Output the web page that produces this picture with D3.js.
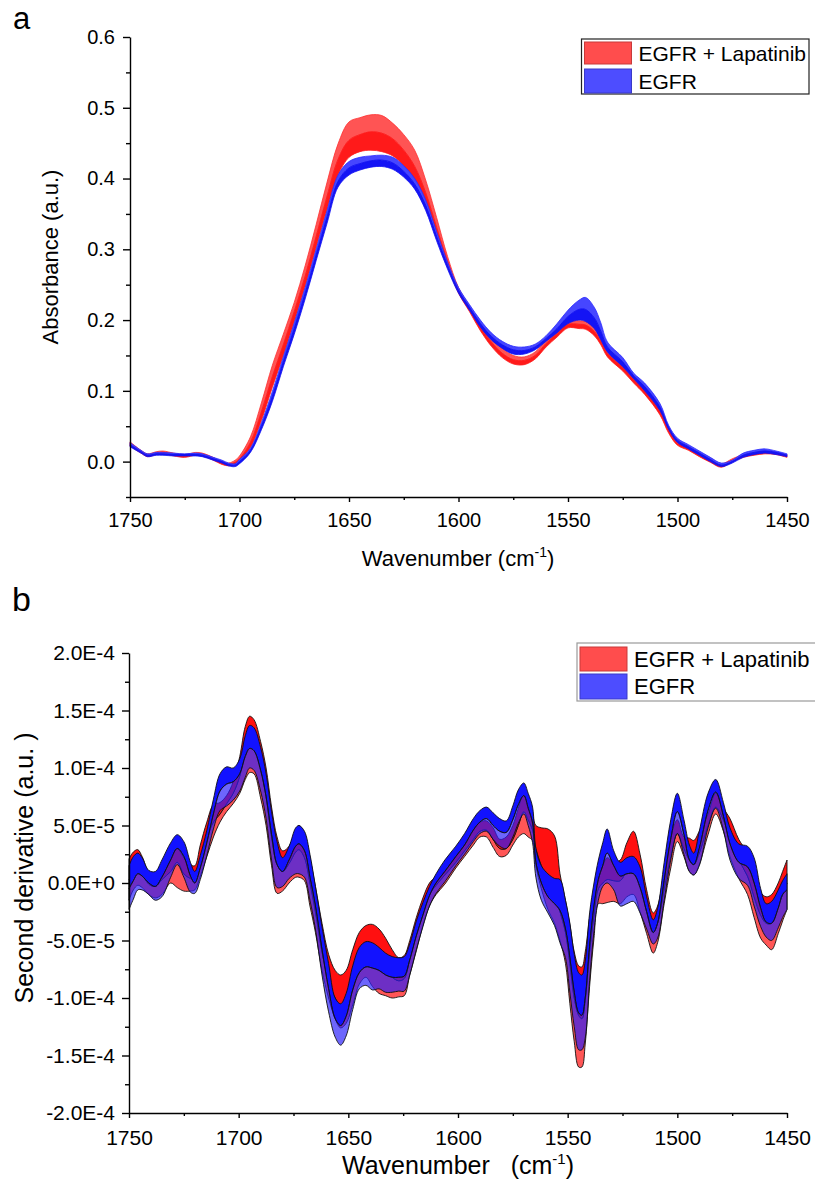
<!DOCTYPE html>
<html><head><meta charset="utf-8">
<script src="https://cdn.jsdelivr.net/npm/d3@7"></script>
<style>
body{margin:0;background:#fff}
svg{display:block}
text{font-family:"Liberation Sans",Arial,sans-serif;fill:#000}
</style>
</head><body>
<svg id="chart" width="815" height="1183"></svg>
<script>
// ---------- Panel a: absorbance spectra (band = lower / middle / upper) ----------
const wnA = [1750,1745,1742,1738,1735,1730,1725,1720,1717,1712,1708,1705,1702,1700,1695,1690,1685,1680,1675,1670,1665,1660,1655,1650,1645,1640,1635,1630,1625,1620,1615,1610,1605,1600,1595,1590,1585,1580,1575,1570,1565,1560,1555,1550,1545,1542,1538,1535,1532,1525,1520,1515,1508,1504,1500,1495,1490,1485,1480,1475,1470,1465,1460,1455,1450];
const lapA_lo = [.022,.012,.007,.010,.011,.008,.006,.009,.008,.002,-.004,-.006,-.004,.001,.020,.058,.105,.150,.198,.248,.303,.357,.405,.430,.438,.440,.438,.432,.418,.395,.362,.318,.276,.238,.212,.185,.163,.147,.138,.137,.145,.162,.176,.189,.188,.187,.178,.165,.148,.128,.111,.095,.066,.040,.023,.016,.007,-.001,-.008,.000,.006,.009,.011,.010,.006];
const lapA_mid = [.025,.014,.009,.012,.013,.010,.008,.011,.010,.004,-.002,-.004,-.001,.004,.027,.070,.120,.165,.212,.262,.318,.375,.427,.454,.462,.466,.464,.456,.440,.417,.380,.331,.283,.242,.216,.190,.169,.153,.144,.143,.150,.167,.181,.194,.194,.193,.184,.170,.153,.133,.116,.100,.071,.044,.026,.019,.010,.002,-.005,.002,.008,.011,.013,.012,.008];
const lapA_hi = [.028,.016,.011,.014,.015,.012,.010,.013,.012,.006,.000,-.002,.002,.008,.035,.083,.136,.180,.225,.277,.335,.395,.449,.480,.486,.490,.489,.478,.462,.440,.398,.345,.290,.246,.220,.195,.175,.160,.150,.148,.155,.172,.186,.198,.199,.198,.190,.176,.158,.138,.121,.105,.076,.048,.029,.022,.013,.005,-.003,.004,.010,.013,.015,.013,.010];
const egfrA_lo = [.021,.012,.007,.009,.009,.008,.008,.008,.007,.002,-.002,-.006,-.007,-.003,.013,.045,.085,.134,.180,.230,.284,.337,.388,.405,.412,.416,.417,.413,.402,.385,.355,.312,.272,.238,.214,.190,.172,.160,.152,.152,.158,.170,.182,.195,.200,.198,.188,.172,.155,.134,.117,.100,.072,.045,.027,.018,.009,.000,-.007,-.002,.006,.010,.012,.010,.007];
const egfrA_mid = [.024,.014,.009,.011,.011,.010,.010,.010,.009,.004,.000,-.004,-.005,.000,.016,.050,.092,.141,.188,.238,.292,.346,.396,.415,.421,.425,.426,.422,.410,.392,.362,.318,.277,.242,.218,.195,.177,.165,.158,.157,.162,.174,.188,.205,.215,.215,.203,.184,.162,.141,.121,.106,.077,.048,.030,.021,.012,.003,-.005,.000,.009,.013,.015,.013,.009];
const egfrA_hi = [.027,.016,.011,.013,.013,.012,.011,.012,.011,.006,.002,-.002,-.003,.003,.019,.055,.099,.148,.196,.246,.300,.355,.405,.424,.430,.432,.433,.430,.418,.400,.370,.325,.282,.246,.222,.200,.182,.170,.163,.162,.166,.178,.195,.214,.228,.232,.218,.196,.169,.147,.125,.111,.082,.051,.033,.024,.015,.006,-.002,.002,.012,.016,.018,.015,.011];

// ---------- Panel b: second derivative (values in units of 1E-5) ----------
const wnB = [1750,1748,1746,1744,1741,1738,1735,1731,1728,1725,1722,1720,1717.5,1714.5,1711.5,1708.5,1705.5,1702.5,1699.5,1697,1695,1693,1690,1687.5,1685,1682.5,1680,1677,1674,1672.5,1670,1667.5,1665,1662,1659,1656,1653.5,1651,1648,1645,1642,1639,1636,1633,1630,1627,1624.5,1622,1619,1616,1613,1610,1606,1601,1597,1593,1590,1587,1584,1581,1578,1575,1572.5,1570,1568,1566,1564.5,1562,1559,1556,1553.5,1551,1549,1547,1545,1543.5,1542,1540,1538,1536,1534,1532,1529,1526,1523,1520,1517,1514,1511,1509,1506,1503,1500,1497,1494.5,1492.5,1490,1486,1482.5,1479,1476,1472,1468,1465,1462,1459.5,1457,1454,1452,1450];
const lapB_hi = [2.1,2.7,2.9,2.3,1.0,0.9,1.5,2.4,3.0,2.2,1.6,1.5,3.3,5.3,6.8,7.0,7.6,8.8,11.0,13.6,14.5,14.2,12.3,10.0,6.6,4.0,2.8,3.2,4.6,5.0,4.3,2.2,-0.3,-3.5,-6.2,-7.6,-8.0,-7.6,-5.8,-4.3,-3.7,-3.6,-4.0,-4.8,-5.8,-6.5,-6.3,-5.0,-3.0,-1.3,0.0,0.6,1.7,2.8,3.8,4.8,5.3,5.4,4.8,3.8,4.0,5.0,6.5,7.8,7.5,6.0,5.0,4.8,4.7,4.1,0.8,-1.5,-3.6,-6.0,-7.2,-7.3,-6.0,-3.0,-0.6,0.8,1.5,2.2,1.8,2.0,3.5,4.5,2.5,-0.6,-2.6,-2.0,1.0,4.0,5.5,4.0,3.9,3.7,4.5,6.0,7.8,6.5,5.6,3.8,2.6,1.0,-0.8,-1.2,-1.0,0.0,1.0,2.0];
const lapB_mid = [0.3,0.9,1.2,0.8,-0.1,-0.3,0.3,1.0,1.8,0.8,0.4,0.3,1.8,3.9,5.3,6.0,6.9,7.8,9.3,11.5,12.2,12.0,10.0,7.5,4.0,1.6,1.0,1.7,2.7,2.9,2.2,0.0,-2.5,-6.0,-8.5,-10.0,-10.6,-10.2,-8.5,-7.2,-6.6,-6.6,-7.0,-7.6,-8.2,-8.5,-8.3,-6.6,-4.5,-2.6,-1.0,-0.2,0.7,1.8,2.8,3.8,4.5,4.6,3.8,3.0,3.0,3.8,5.0,6.2,5.5,4.6,3.0,1.5,0.0,-1.0,-2.5,-4.3,-7.0,-10.0,-11.5,-11.8,-10.2,-6.0,-2.8,-0.5,0.0,0.3,0.2,0.2,1.0,1.2,0.0,-2.5,-4.3,-3.5,-0.5,2.3,4.3,3.0,2.0,1.6,2.6,5.0,6.6,5.5,3.8,2.0,0.6,-1.2,-2.8,-3.5,-3.5,-2.0,-1.0,0.0];
const lapB_lo = [-1.5,-0.6,-0.2,-0.4,-1.0,-1.3,-1.0,0.0,-0.4,-0.7,-0.7,-0.6,0.6,2.3,4.0,5.3,6.2,6.9,7.8,9.0,9.6,9.5,7.4,5.0,1.5,-0.9,-0.7,0.0,0.5,0.5,0.2,-2.0,-4.3,-7.6,-10.0,-11.8,-12.6,-12.2,-10.6,-8.8,-8.2,-9.0,-9.6,-9.8,-10.0,-9.9,-9.8,-8.0,-5.9,-3.7,-2.0,-1.0,-0.1,1.3,2.3,3.3,4.0,4.0,3.1,2.3,2.4,3.3,4.0,4.3,4.0,3.7,1.5,-0.5,-2.3,-3.5,-5.0,-7.0,-10.5,-13.8,-16.0,-16.0,-14.0,-9.0,-4.8,-1.8,-1.8,-1.7,-1.6,-1.8,-1.2,-1.0,-2.5,-4.4,-6.1,-5.2,-1.8,1.3,3.6,2.3,1.0,0.7,1.6,4.2,6.0,4.5,2.3,0.4,-1.0,-3.0,-4.8,-5.4,-5.8,-4.4,-3.3,-2.3];
const egfrB_hi = [1.5,2.3,2.6,2.2,1.1,1.0,2.0,3.5,4.2,3.6,1.8,1.0,2.4,4.6,7.3,9.5,10.1,10.0,10.8,12.8,13.7,13.5,11.8,9.5,6.2,3.6,2.2,3.2,4.8,5.0,4.5,2.5,-0.3,-3.8,-7.0,-10.0,-10.5,-9.6,-7.2,-5.6,-5.1,-5.2,-5.6,-6.1,-6.4,-6.5,-6.4,-5.3,-3.3,-1.7,-0.3,0.8,2.0,3.2,4.3,5.6,6.3,6.6,6.1,5.6,5.4,6.7,8.1,8.7,7.8,6.6,3.0,1.5,0.8,0.4,0.3,-1.5,-3.5,-6.2,-7.8,-8.0,-6.8,-2.6,0.0,2.0,3.5,4.7,2.8,1.8,2.2,2.3,1.4,-1.2,-3.2,-2.2,1.8,5.5,7.8,5.5,3.3,2.6,4.5,7.8,9.0,7.0,4.8,3.4,3.2,2.2,-0.5,-1.8,-1.6,-0.6,0.2,0.8];
const egfrB_mid = [-0.5,0.2,0.8,0.6,0.0,-0.3,0.5,2.0,3.0,2.3,0.6,0.0,1.3,3.5,6.0,8.0,8.6,8.8,9.5,11.0,11.7,11.5,9.8,7.5,4.2,1.6,1.0,2.0,3.2,3.4,2.8,0.5,-2.0,-5.8,-9.2,-11.8,-12.4,-11.6,-9.3,-7.8,-7.3,-7.4,-7.6,-8.0,-8.2,-8.2,-8.1,-6.7,-4.6,-2.8,-1.1,0.0,1.0,2.3,3.3,4.6,5.3,5.6,5.0,4.5,4.4,5.5,6.8,7.6,6.5,5.2,1.8,0.0,-1.2,-1.8,-2.4,-4.0,-6.5,-9.5,-11.3,-11.5,-10.0,-5.5,-2.0,0.3,1.5,2.6,1.5,0.6,0.8,0.8,-0.4,-2.5,-4.3,-3.5,0.2,3.8,6.2,4.2,2.0,1.6,3.0,6.3,7.9,5.8,3.4,1.8,1.4,0.0,-2.2,-3.4,-3.5,-2.2,-1.0,-0.6];
const egfrB_lo = [-2.3,-1.4,-0.6,-0.6,-1.0,-1.5,-1.2,0.5,1.6,0.5,-0.8,-0.9,0.3,2.4,4.7,6.3,6.7,7.2,8.0,9.2,10.0,9.8,8.0,5.6,2.0,-0.4,-0.3,0.4,0.8,0.8,0.5,-1.5,-4.0,-8.0,-11.2,-13.4,-14.1,-13.3,-11.0,-9.2,-8.9,-9.3,-9.2,-9.5,-9.5,-9.4,-9.4,-8.0,-5.8,-3.8,-2.0,-0.9,0.1,1.5,2.5,3.6,4.3,4.5,3.8,3.2,3.0,4.0,5.2,6.0,5.0,3.5,0.5,-1.5,-2.6,-3.7,-5.2,-6.5,-9.5,-12.5,-14.5,-14.5,-13.5,-8.5,-4.2,-1.5,-0.3,0.0,-0.6,-2.0,-1.8,-1.6,-2.6,-4.0,-5.3,-4.8,-1.5,2.0,4.3,2.5,1.0,0.7,1.5,4.8,6.5,4.6,2.0,0.4,-0.2,-2.0,-3.8,-4.7,-5.0,-3.9,-3.0,-2.3];

// ---------- ticks / labels ----------
const xTicks = [1750,1700,1650,1600,1550,1500,1450];
const xMinor = [1725,1675,1625,1575,1525,1475];
const yTicksA = [0.0,0.1,0.2,0.3,0.4,0.5,0.6];
const yTickLabelsA = ["0.0","0.1","0.2","0.3","0.4","0.5","0.6"];
const yMinorA = [-0.05,0.05,0.15,0.25,0.35,0.45,0.55];
const yTicksB = [-20,-15,-10,-5,0,5,10,15,20];
const yTickLabelsB = ["-2.0E-4","-1.5E-4","-1.0E-4","-5.0E-5","0.0E+0","5.0E-5","1.0E-4","1.5E-4","2.0E-4"];
const yMinorB = [-17.5,-12.5,-7.5,-2.5,2.5,7.5,12.5,17.5];
const legendLabels = ["EGFR + Lapatinib","EGFR"];

const svg = d3.select("#chart");

function rows(wn, hi, mid, lo){ return wn.map((w,i)=>({w, hi:hi[i], mid:mid[i], lo:lo[i]})); }

function drawAxes(g, x, y, opt){
  const gx = g.append("g").attr("transform",`translate(0,${y.range()[0]})`)
    .call(d3.axisBottom(x).tickValues(opt.xTicks).tickSize(opt.xMaj).tickSizeOuter(0).tickPadding(opt.xPad).tickFormat(d3.format("d")));
  g.append("g").attr("transform",`translate(0,${y.range()[0]})`)
    .call(d3.axisBottom(x).tickValues(xMinor).tickSize(opt.xMin).tickSizeOuter(0).tickFormat(""))
    .select(".domain").remove();
  const gy = g.append("g").attr("transform",`translate(${x.range()[0]},0)`)
    .call(d3.axisLeft(y).tickValues(opt.yTicks).tickSize(7).tickSizeOuter(0).tickPadding(opt.yPad)
      .tickFormat((d,i)=>opt.yLabels[i]));
  g.append("g").attr("transform",`translate(${x.range()[0]},0)`)
    .call(d3.axisLeft(y).tickValues(opt.yMinor).tickSize(4).tickSizeOuter(0).tickFormat(""))
    .select(".domain").remove();
  g.selectAll(".domain, .tick line").attr("stroke","#000").attr("stroke-width",1.4);
  gx.selectAll("text").attr("font-size",opt.xFont).attr("font-family",'"Liberation Sans",Arial,sans-serif');
  gy.selectAll("text").attr("font-size",opt.yFont).attr("font-family",'"Liberation Sans",Arial,sans-serif');
}

function legend(g, x0, y0, w, h, border, fs, rowsY){
  g.append("rect").attr("x",x0).attr("y",y0).attr("width",w).attr("height",h)
    .attr("fill","#fff").attr("stroke",border).attr("stroke-width",1.2);
  const cols = [["#ff4d4d","#c83a3a"],["#4d4dff","#3a3ac8"]];
  legendLabels.forEach((t,i)=>{
    g.append("rect").attr("x",x0+3).attr("y",rowsY[i][0]).attr("width",47).attr("height",rowsY[i][1])
      .attr("fill",cols[i][0]).attr("stroke",cols[i][1]).attr("stroke-width",1);
    g.append("text").attr("x",x0+57).attr("y",rowsY[i][2]).attr("font-size",fs).text(t);
  });
}

// ================= Panel a =================
const xA = d3.scaleLinear().domain([1750,1450]).range([130,787]);
const yA = d3.scaleLinear().domain([-0.05,0.6]).range([497,37]);
const gA = svg.append("g");
const dLapA = rows(wnA, lapA_hi, lapA_mid, lapA_lo);
const dEgfrA = rows(wnA, egfrA_hi, egfrA_mid, egfrA_lo);
const curve = d3.curveCatmullRom.alpha(0.5);
const areaA = (k0,k1)=>d3.area().x(d=>xA(d.w)).y0(d=>yA(d[k0])).y1(d=>yA(d[k1])).curve(curve);
gA.append("path").datum(dLapA).attr("d",areaA("mid","hi")).attr("fill","#ff5454").attr("stroke","#ff3030").attr("stroke-width",0.8);
gA.append("path").datum(dLapA).attr("d",areaA("lo","mid")).attr("fill","#ff1a1a").attr("stroke","#ff1a1a").attr("stroke-width",0.8);
gA.append("path").datum(dEgfrA).attr("d",areaA("mid","hi")).attr("fill","#4646ff").attr("stroke","#2a2aff").attr("stroke-width",0.8);
gA.append("path").datum(dEgfrA).attr("d",areaA("lo","mid")).attr("fill","#1414f5").attr("stroke","#1010f0").attr("stroke-width",0.8);

drawAxes(gA, xA, yA, {xTicks, xMaj:5, xMin:3, xPad:11, xFont:20, yTicks:yTicksA, yLabels:yTickLabelsA, yMinor:yMinorA, yPad:8, yFont:20});

gA.append("text").attr("transform","translate(58,257) rotate(-90)").attr("text-anchor","middle")
  .attr("font-size",22).text("Absorbance (a.u.)");
const tA = gA.append("text").attr("x",458).attr("y",566).attr("text-anchor","middle").attr("font-size",22);
tA.append("tspan").text("Wavenumber (cm");
tA.append("tspan").attr("dy",-9).attr("font-size",14).text("-1");
tA.append("tspan").attr("dy",9).text(")");
gA.append("text").attr("x",13).attr("y",29).attr("font-size",31).text("a");
legend(gA, 581.5, 39, 227.5, 55, "#222", 21, [[42,22,61],[69,24,89]]);

// ================= Panel b =================
const xB = d3.scaleLinear().domain([1750,1450]).range([129,787]);
const yB = d3.scaleLinear().domain([-20,20]).range([1113,653]);
const gB = svg.append("g");
const dLapB = rows(wnB, lapB_hi, lapB_mid, lapB_lo);
const dEgfrB = rows(wnB, egfrB_hi, egfrB_mid, egfrB_lo);
const areaB = (k0,k1)=>d3.area().x(d=>xB(d.w)).y0(d=>yB(d[k0])).y1(d=>yB(d[k1])).curve(curve);
gB.append("path").datum(dLapB).attr("d",areaB("lo","mid")).attr("fill","#ff5656").attr("stroke","#111").attr("stroke-width",0.9);
gB.append("path").datum(dLapB).attr("d",areaB("mid","hi")).attr("fill","#ff1010").attr("stroke","#111").attr("stroke-width",0.9);
gB.append("path").datum(dEgfrB).attr("d",areaB("mid","hi")).attr("fill","#1212ff").attr("stroke","#111").attr("stroke-width",0.9);
gB.append("path").datum(dEgfrB).attr("d",areaB("lo","mid")).attr("fill","rgba(40,30,250,0.68)").attr("stroke","#111").attr("stroke-width",0.9);

drawAxes(gB, xB, yB, {xTicks, xMaj:5, xMin:3, xPad:12, xFont:21, yTicks:yTicksB, yLabels:yTickLabelsB, yMinor:yMinorB, yPad:7, yFont:21});

gB.append("text").attr("transform","translate(33,868) rotate(-90)").attr("text-anchor","middle")
  .attr("font-size",25).text("Second derivative (a.u. )");
const tB = gB.append("text").attr("x",458).attr("y",1174).attr("text-anchor","middle").attr("font-size",25)
  .style("white-space","pre").attr("xml:space","preserve");
tB.append("tspan").text("Wavenumber   (cm");
tB.append("tspan").attr("dy",-10).attr("font-size",15).text("-1");
tB.append("tspan").attr("dy",10).text(")");
gB.append("text").attr("x",12).attr("y",611).attr("font-size",34).text("b");
legend(gB, 577, 643, 250, 58, "#9a9a9a", 22, [[647,24,667],[674,25,694]]);
</script>
</body></html>
